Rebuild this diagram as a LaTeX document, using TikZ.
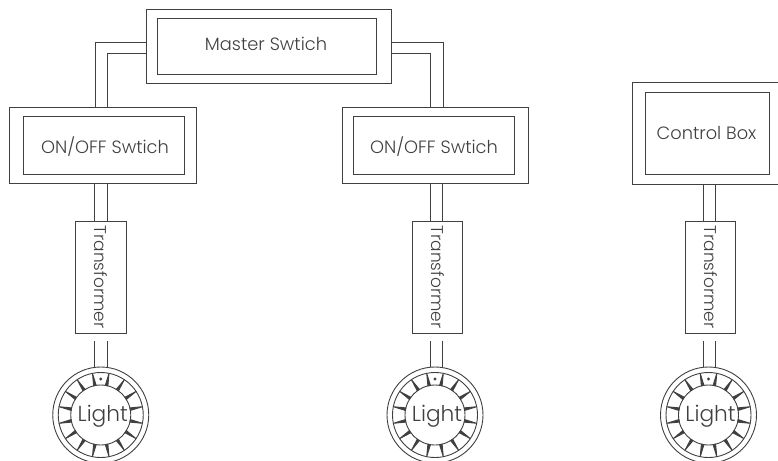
\documentclass[tikz,border=0pt]{standalone}
\usepackage{fontspec}
\setmainfont{Poppins}[UprightFont=* Light]
\usepackage{tikz}
\usetikzlibrary{positioning}
\definecolor{inkgray}{HTML}{404040}

\begin{document}
\begin{tikzpicture}
    [x=1pt,y=-1pt,
     wire/.style={draw=inkgray,line width=.9pt},
     panel/.style={wire,inner sep=0pt},
     boxlabel/.style={text=inkgray,inner sep=0pt,font=\fontsize{17.8}{18}\selectfont},
     xfmr/.style={panel,minimum width=50.5pt,minimum height=112pt},
     xfmrlabel/.style={text=inkgray,inner sep=0pt,font=\fontsize{17}{17}\selectfont,rotate=-90},
     ring/.style={wire,circle,inner sep=0pt,minimum size=96pt},
     core/.style={panel,circle,minimum size=60pt},
     corelabel/.style={text=inkgray,inner sep=0pt,font=\fontsize{21.7}{22}\selectfont}]

    \clip (0,0) rectangle (778,460);

    \node[panel,minimum width=245pt,minimum height=74pt] (master) at (268.5,46) {};
    \node[panel,minimum width=219pt,minimum height=56pt] (masterin) at (267,46) {};
    \node[boxlabel] (masterlbl) at (266,44) {Master Swtich};

    \node[panel,minimum width=187pt,minimum height=76pt] (swa) at (102.5,145) {};
    \node[panel,minimum width=161pt,minimum height=58pt] (swain) at (103.5,145) {};
    \node[boxlabel] (swalbl) at (105,147) {ON/OFF Swtich};

    \node[panel,minimum width=186pt,minimum height=76pt] (swb) at (435,145) {};
    \node[panel,minimum width=161pt,minimum height=58pt] (swbin) at (433.5,145) {};
    \node[boxlabel] (swblbl) at (434,147) {ON/OFF Swtich};

    \coordinate (ctrlbot) at (709.5,184);
    \draw[wire] (778,82) -- (632,82) -- (632,184) -- (778,184);
    \node[panel,minimum width=124pt,minimum height=82pt] (ctrlin) at (707,133) {};
    \node[boxlabel] (ctrllbl) at (706.5,133) {Control Box};

    \draw[wire] ([yshift=4pt]master.west) -| (95,0 |- swa.north);
    \draw[wire] ([yshift=-7pt]master.west) -| (107,0 |- swa.north);
    \draw[wire] ([yshift=4pt]master.east) -| (443,0 |- swb.north);
    \draw[wire] ([yshift=-7pt]master.east) -| (430,0 |- swb.north);

    \foreach \nm/\up/\bx/\wx/\lx in {a/swa.south/100.75/100.75/100.75,b/swb.south/437.5/436.5/435,c/ctrlbot/710.5/709.5/708.5} {
      \node[xfmr] (tr\nm) at (\bx,277.5) {};
      \node[xfmrlabel] (trl\nm) at (\bx+.5,277) {Transformer};
      \node[ring] (lamp\nm) at (\lx,415) {};
      \node[core] (core\nm) at (\lx,415) {};
      \node[corelabel] (lightl\nm) at (\lx+2,416) {Light};
      \draw[wire] (lamp\nm) circle (42.5);
      \fill[inkgray] (\lx,379) circle (1.6);
      \foreach \ang in {0,...,15} {
        \draw[wire,fill=inkgray,line join=round]
          ([shift={(\ang*22.5+11.25:42.5)}]lamp\nm.center) --
          ([shift={(\ang*22.5+8.75:30)}]lamp\nm.center) --
          ([shift={(\ang*22.5+13.75:30)}]lamp\nm.center) -- cycle;
      }
      \draw[wire] (\wx-6.25,0 |- \up) -- (\wx-6.25,0 |- tr\nm.north);
      \draw[wire] (\wx+6.25,0 |- \up) -- (\wx+6.25,0 |- tr\nm.north);
      \draw[wire,shorten <=7pt] (\wx-6.25,0 |- tr\nm.south) -- (\wx-6.25,0 |- lamp\nm.north);
      \draw[wire,shorten <=7pt] (\wx+6.25,0 |- tr\nm.south) -- (\wx+6.25,0 |- lamp\nm.north);
    }
\end{tikzpicture}
\end{document}
